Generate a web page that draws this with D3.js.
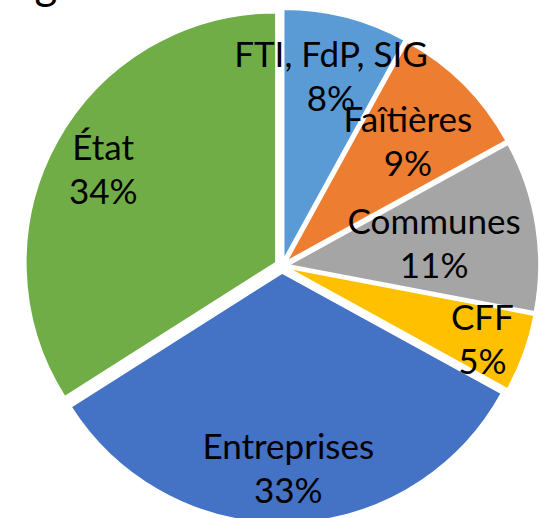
<!DOCTYPE html>
<html>
<head>
<meta charset="utf-8">
<script src="https://cdn.jsdelivr.net/npm/d3@7"></script>
<style>
  body { margin: 0; background: #fff; }
  text { font-family: Lato, "Liberation Sans", sans-serif; }
</style>
</head>
<body>
<div class="chart"></div>
<script>
var svgWidth = 540;
var svgHeight = 518;

// slices, clockwise from 12 o'clock
var categories = ["FTI, FdP, SIG", "Faîtières", "Communes", "CFF", "Entreprises", "État"];
var shares = [8, 9, 11, 5, 33, 34];
var pctLabels = ["8%", "9%", "11%", "5%", "33%", "34%"];
var colors = ["#5B9BD5", "#ED7D31", "#A5A5A5", "#FFC000", "#4472C4", "#70AD47"];
// where Excel put each label, as a share of the radius
var labelRadius = [0.76, 0.684, 0.588, 0.824, 0.776, 0.788];

var cx = 282, cy = 266, radius = 250, explode = 7;

var svg = d3.select(".chart")
  .append("svg")
  .attr("width", svgWidth)
  .attr("height", svgHeight);

// cropped chart title, only the tail of a "g" is visible
svg.append("text")
  .attr("x", 46)
  .attr("y", -1)
  .attr("text-anchor", "middle")
  .attr("font-size", "44px")
  .attr("fill", "#000")
  .text("g");

var pie = d3.pie().sort(null).value(d => d);
var arcs = pie(shares);

var arc = d3.arc().innerRadius(0).outerRadius(radius);

function shift(d) {
  var mid = (d.startAngle + d.endAngle) / 2;
  return [Math.sin(mid) * explode, -Math.cos(mid) * explode];
}

var chartGroup = svg.append("g")
  .attr("transform", `translate(${cx}, ${cy})`);

chartGroup.append("g").selectAll("path")
  .data(arcs)
  .enter()
  .append("path")
  .attr("transform", d => `translate(${shift(d)})`)
  .attr("d", arc)
  .attr("fill", (d, i) => colors[i])
  .attr("stroke", "#fff")
  .attr("stroke-width", 1.5);

// labels on top of every slice
var labels = chartGroup.append("g").selectAll("text")
  .data(arcs)
  .enter()
  .append("text")
  .attr("transform", function (d, i) {
    var r = radius * labelRadius[i];
    var c = d3.arc().innerRadius(r).outerRadius(r).centroid(d);
    var s = shift(d);
    return `translate(${c[0] + s[0]}, ${c[1] + s[1]})`;
  })
  .attr("text-anchor", "middle")
  .attr("font-size", "35px")
  .attr("fill", "#000");

labels.append("tspan")
  .attr("x", 0)
  .attr("y", -22)
  .attr("dominant-baseline", "central")
  .text((d, i) => categories[i]);

labels.append("tspan")
  .attr("x", 0)
  .attr("y", 22)
  .attr("dominant-baseline", "central")
  .text((d, i) => pctLabels[i]);
</script>
</body>
</html>
